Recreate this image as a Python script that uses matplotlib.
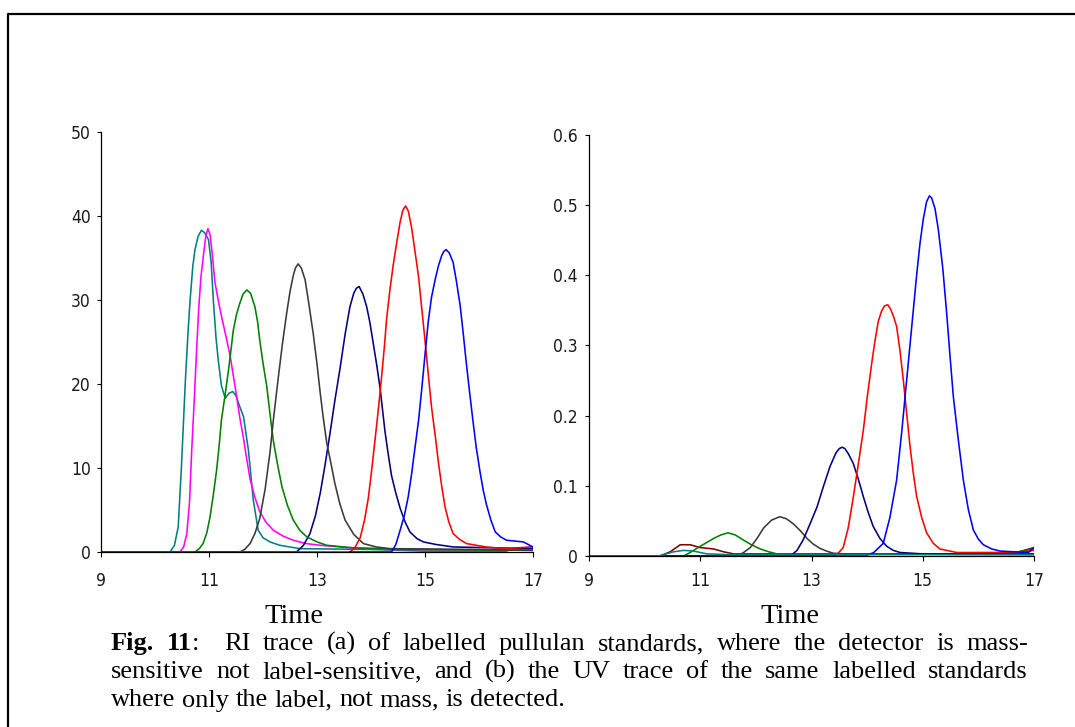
import matplotlib
matplotlib.use("Agg")
import matplotlib.pyplot as plt
from matplotlib.lines import Line2D

W, H = 1075, 727

# --- RI trace (a): elution time (min) and detector response ---
ri_teal_t = [9, 10.28, 10.36, 10.43, 10.49, 10.56, 10.61, 10.65, 10.70, 10.74, 10.80, 10.86,
             10.92, 10.99, 11.04, 11.08, 11.13, 11.17, 11.23, 11.30, 11.37, 11.44, 11.50,
             11.57, 11.64, 11.73, 11.82, 11.91, 12.0, 12.13, 12.31, 12.68, 14.0, 15.0,
             16.5, 16.7, 17]
ri_teal_v = [0, 0, 0.8, 3.0, 10.2, 20.1, 26.0, 30.0, 34.0, 36.0, 37.6, 38.3,
             38.0, 37.2, 34.5, 30.0, 25.5, 22.9, 19.8, 18.3, 18.9, 19.1, 18.6,
             17.3, 16.1, 12.1, 6.2, 2.6, 1.7, 1.2, 0.8, 0.4, 0.3, 0.1,
             0.1, 0.5, 0.4]

ri_magenta_t = [9, 10.46, 10.53, 10.59, 10.64, 10.68, 10.73, 10.77, 10.81, 10.85, 10.90,
                10.94, 10.98, 11.02, 11.06, 11.11, 11.17, 11.23, 11.31, 11.39, 11.45,
                11.51, 11.57, 11.64, 11.70, 11.76, 11.85, 11.94, 12.06, 12.19, 12.37,
                12.56, 12.8, 13.06, 13.6, 14.5, 17]
ri_magenta_v = [0, 0, 0.6, 2.2, 6.0, 12.1, 18.5, 24.0, 29.0, 32.7, 35.5,
                37.6, 38.5, 37.8, 35.5, 32.1, 30.0, 28.1, 25.8, 23.4, 21.0,
                18.6, 16.0, 13.5, 11.0, 8.7, 6.5, 4.8, 3.5, 2.6, 1.9,
                1.4, 1.0, 0.8, 0.5, 0.3, 0.2]

ri_navy_t = [9, 12.62, 12.75, 12.87, 12.97, 13.06, 13.15, 13.24, 13.33, 13.43, 13.52,
             13.61, 13.68, 13.73, 13.78, 13.85, 13.92, 13.98, 14.04, 14.11, 14.17,
             14.26, 14.32, 14.38, 14.46, 14.54, 14.63, 14.72, 14.85, 14.97, 15.2,
             15.52, 17]
ri_navy_v = [0, 0, 0.8, 2.2, 4.3, 7.0, 10.4, 14.1, 18.0, 22.0, 25.9,
             29.2, 30.8, 31.4, 31.6, 30.7, 29.2, 27.3, 24.9, 22.1, 19.4,
             14.3, 11.6, 9.1, 7.0, 5.2, 3.6, 2.4, 1.6, 1.2, 0.9,
             0.6, 0.4]

ri_green_t = [9, 10.74, 10.82, 10.89, 10.96, 11.02, 11.08, 11.14, 11.19, 11.23, 11.30,
              11.36, 11.41, 11.45, 11.51, 11.57, 11.63, 11.70, 11.77, 11.85, 11.90,
              11.94, 12.0, 12.07, 12.13, 12.19, 12.27, 12.35, 12.45, 12.56, 12.68,
              12.81, 13.0, 13.18, 13.67, 14.7, 17]
ri_green_v = [0, 0, 0.4, 1.0, 2.3, 4.2, 6.8, 9.7, 12.8, 15.7, 18.8,
              21.6, 24.2, 26.4, 28.3, 29.6, 30.7, 31.2, 30.8, 29.2, 27.4,
              25.2, 22.5, 19.7, 16.4, 13.3, 10.4, 7.8, 5.6, 3.8, 2.6,
              1.8, 1.2, 0.8, 0.5, 0.3, 0.2]

ri_black_t = [10.74, 11.57, 11.66, 11.76, 11.85, 11.94, 12.04, 12.13, 12.20, 12.28, 12.36,
              12.44, 12.50, 12.56, 12.60, 12.65, 12.71, 12.78, 12.85, 12.93, 13.00,
              13.06, 13.12, 13.18, 13.26, 13.33, 13.42, 13.52, 13.68, 13.86, 14.1,
              14.35, 16.0, 17]
ri_black_v = [0, 0, 0.3, 1.0, 2.2, 4.0, 7.5, 11.9, 16.2, 20.6, 24.8,
              28.5, 31.0, 32.9, 33.8, 34.3, 33.8, 32.4, 29.5, 26.0, 22.4,
              18.9, 15.8, 13.0, 10.5, 8.2, 5.8, 3.8, 2.1, 1.0, 0.6,
              0.4, 0.3, 0.2]

ri_red_t = [11.57, 13.61, 13.70, 13.80, 13.88, 13.95, 14.01, 14.07, 14.14, 14.20, 14.25,
            14.29, 14.35, 14.41, 14.48, 14.54, 14.59, 14.64, 14.69, 14.75, 14.81,
            14.88, 14.94, 15.00, 15.06, 15.12, 15.19, 15.25, 15.31, 15.37, 15.44,
            15.52, 15.64, 15.77, 15.95, 16.13, 16.5, 16.94, 17]
ri_red_v = [0, 0, 0.5, 1.7, 3.8, 6.4, 9.6, 13.1, 17.2, 21.1, 24.6,
            27.8, 31.2, 34.1, 37.0, 39.3, 40.7, 41.2, 40.6, 38.7, 36.0,
            32.8, 29.0, 25.2, 21.2, 17.3, 13.8, 10.6, 7.8, 5.4, 3.6,
            2.2, 1.5, 1.0, 0.8, 0.6, 0.4, 0.6, 0.6]

ri_blue_t = [13.61, 14.38, 14.46, 14.54, 14.62, 14.69, 14.75, 14.81, 14.88, 14.94, 15.00,
             15.06, 15.12, 15.19, 15.25, 15.31, 15.35, 15.39, 15.45, 15.52, 15.58,
             15.65, 15.71, 15.77, 15.83, 15.89, 15.95, 16.02, 16.08, 16.14, 16.22,
             16.30, 16.40, 16.51, 16.82, 16.94, 17]
ri_blue_v = [0, 0, 0.9, 2.6, 4.4, 6.6, 9.2, 12.2, 15.6, 19.4, 23.5,
             27.4, 30.3, 32.5, 34.1, 35.3, 35.8, 36.0, 35.6, 34.5, 32.3,
             29.4, 25.9, 22.2, 18.8, 15.5, 12.4, 9.5, 7.3, 5.6, 3.8,
             2.4, 1.8, 1.4, 1.2, 0.8, 0.6]

# --- UV trace (b) ---
uv_darkred_t = [9, 10.28, 10.46, 10.64, 10.82, 11.0, 11.24, 11.42, 11.6, 16.6, 17]
uv_darkred_v = [0, 0, 0.006, 0.016, 0.016, 0.012, 0.010, 0.006, 0.003, 0.003, 0.012]

uv_green_t = [9, 10.70, 10.82, 10.94, 11.09, 11.24, 11.37, 11.50, 11.63, 11.77, 11.92,
              12.08, 12.23, 12.38, 16.5, 17]
uv_green_v = [0, 0, 0.005, 0.011, 0.018, 0.025, 0.030, 0.033, 0.030, 0.023, 0.016,
              0.010, 0.006, 0.003, 0.003, 0.010]

uv_black_t = [9, 11.66, 11.78, 11.90, 12.02, 12.14, 12.28, 12.43, 12.55, 12.67, 12.80,
              12.92, 13.03, 13.15, 13.27, 13.39, 13.6, 17]
uv_black_v = [0, 0, 0.005, 0.012, 0.025, 0.040, 0.051, 0.056, 0.053, 0.046, 0.036,
              0.025, 0.017, 0.011, 0.007, 0.004, 0.003, 0.002]

uv_navy_t = [9, 12.62, 12.74, 12.85, 12.97, 13.10, 13.21, 13.33, 13.44, 13.50, 13.55,
             13.60, 13.66, 13.75, 13.84, 13.93, 14.02, 14.11, 14.23, 14.35, 14.47,
             14.59, 15.0, 17]
uv_navy_v = [0, 0, 0.008, 0.023, 0.045, 0.070, 0.098, 0.127, 0.147, 0.153, 0.155,
             0.153, 0.146, 0.132, 0.110, 0.085, 0.062, 0.042, 0.025, 0.014, 0.008,
             0.005, 0.003, 0.003]

uv_red_t = [9, 13.39, 13.48, 13.57, 13.66, 13.75, 13.84, 13.93, 14.00, 14.08, 14.14,
            14.20, 14.26, 14.31, 14.37, 14.42, 14.48, 14.53, 14.59, 14.65, 14.71,
            14.77, 14.83, 14.89, 14.98, 15.07, 15.19, 15.31, 15.61, 16.7, 17]
uv_red_v = [0, 0, 0.004, 0.012, 0.040, 0.083, 0.130, 0.178, 0.225, 0.273, 0.306,
            0.334, 0.349, 0.356, 0.358, 0.352, 0.340, 0.327, 0.293, 0.251, 0.204,
            0.157, 0.118, 0.085, 0.055, 0.033, 0.018, 0.010, 0.005, 0.005, 0.008]

uv_blue_t = [9, 13.96, 14.12, 14.29, 14.41, 14.53, 14.62, 14.71, 14.80, 14.89, 14.95,
             15.01, 15.07, 15.12, 15.16, 15.22, 15.28, 15.36, 15.43, 15.49, 15.55,
             15.64, 15.73, 15.82, 15.91, 16.0, 16.09, 16.24, 16.39, 16.9, 17]
uv_blue_v = [0, 0, 0.005, 0.018, 0.055, 0.108, 0.175, 0.25, 0.325, 0.40, 0.445,
             0.48, 0.505, 0.513, 0.510, 0.495, 0.465, 0.410, 0.346, 0.285, 0.227,
             0.165, 0.108, 0.066, 0.037, 0.024, 0.016, 0.010, 0.007, 0.005, 0.012]

uv_teal_t = [9, 10.25, 10.52, 10.70, 10.88, 11.12, 11.5, 17]
uv_teal_v = [0, 0, 0.006, 0.008, 0.007, 0.003, 0.002, 0.002]

x_ticks = [9, 11, 13, 15, 17]
ri_yticks = [0, 10, 20, 30, 40, 50]
uv_yticks = [0, 0.1, 0.2, 0.3, 0.4, 0.5, 0.6]
uv_ylabels = ["0", "0.1", "0.2", "0.3", "0.4", "0.5", "0.6"]

caption_lines = [
    ["Fig.", "11", ":", "RI", "trace", "(a)", "of", "labelled", "pullulan", "standards,",
     "where", "the", "detector", "is", "mass-"],
    ["sensitive", "not", "label-sensitive,", "and", "(b)", "the", "UV", "trace", "of", "the",
     "same", "labelled", "standards"],
    ["where", "only", "the", "label,", "not", "mass,", "is", "detected."],
]

C_TEAL = "#008080"
C_MAGENTA = "#ff00ff"
C_GREEN = "#008000"
C_BLACK = "#3a3a3a"
C_NAVY = "#000080"
C_RED = "#ff0000"
C_BLUE = "#0000ff"
C_DARKRED = "#800000"

tick_font = ["DejaVu Sans"]
serif = ["Liberation Serif", "DejaVu Serif"]

fig = plt.figure(figsize=(W / 100, H / 100), dpi=100)


def px_rect(left, top, right, bottom):
    return [left / W, 1 - bottom / H, (right - left) / W, (bottom - top) / H]


def style_axes(ax, ylim, yticks, ylabels, xpad, ypad):
    ax.set_xlim(9, 17)
    ax.set_ylim(*ylim)
    ax.set_xticks(x_ticks)
    ax.set_yticks(yticks)
    ax.set_yticklabels(ylabels)
    for side in ("top", "right"):
        ax.spines[side].set_visible(False)
    for side in ("left", "bottom"):
        ax.spines[side].set_linewidth(0.9)
    ax.tick_params(axis="x", direction="out", length=3.6, width=0.8, pad=xpad)
    ax.tick_params(axis="y", direction="out", length=3, width=0.8, pad=ypad)
    for lab in ax.get_xticklabels() + ax.get_yticklabels():
        lab.set_fontfamily(tick_font)
        lab.set_fontstretch("condensed")
        lab.set_fontsize(12.5)
        lab.set_color("#1a1a1a")


lw = 1.15

# (a) RI
ax1 = fig.add_axes(px_rect(101, 132, 533, 552))
ax1.plot(ri_teal_t, ri_teal_v, color=C_TEAL, lw=lw)
ax1.plot(ri_magenta_t, ri_magenta_v, color=C_MAGENTA, lw=lw)
ax1.plot(ri_navy_t, ri_navy_v, color=C_NAVY, lw=lw)
ax1.plot(ri_green_t, ri_green_v, color=C_GREEN, lw=lw)
ax1.plot(ri_black_t, ri_black_v, color=C_BLACK, lw=lw)
ax1.plot(ri_red_t, ri_red_v, color=C_RED, lw=lw)
ax1.plot(ri_blue_t, ri_blue_v, color=C_BLUE, lw=lw)
style_axes(ax1, (0, 50), ri_yticks, [str(v) for v in ri_yticks], 11, 4.3)

# (b) UV
ax2 = fig.add_axes(px_rect(589, 556 - 0.6 * 702, 1034, 556))
ax2.plot(uv_darkred_t, uv_darkred_v, color=C_DARKRED, lw=lw)
ax2.plot(uv_green_t, uv_green_v, color=C_GREEN, lw=lw)
ax2.plot(uv_black_t, uv_black_v, color=C_BLACK, lw=lw)
ax2.plot(uv_navy_t, uv_navy_v, color=C_NAVY, lw=lw)
ax2.plot(uv_red_t, uv_red_v, color=C_RED, lw=lw)
ax2.plot(uv_blue_t, uv_blue_v, color=C_BLUE, lw=lw)
ax2.plot(uv_teal_t, uv_teal_v, color=C_TEAL, lw=lw)
style_axes(ax2, (0, 0.6), uv_yticks, uv_ylabels, 8.2, 5)

# axis titles
for cx in (294, 790):
    fig.text(cx / W, 1 - 623 / H, "Time", ha="center", va="baseline",
             fontsize=20.5, family=serif)

# frame around the figure
fig.add_artist(Line2D([8 / W, 8 / W, 1.0], [0.0, 1 - 14 / H, 1 - 14 / H],
                      transform=fig.transFigure, color="black", lw=1.6))

# caption, justified between x0 and x1
renderer = fig.canvas.get_renderer()
x0, x1 = 111, 1028
baselines = [650, 678, 706.5]
cap_size = 19


def word_text(word, bold):
    return fig.text(0, 0, word, fontsize=cap_size, family=serif,
                    fontweight="bold" if bold else "normal", va="baseline", ha="left")


space = word_text("a a", False)
pair = word_text("aa", False)
space_w = space.get_window_extent(renderer).width - pair.get_window_extent(renderer).width
space.remove()
pair.remove()

for li, words in enumerate(caption_lines):
    texts = []
    for i, w in enumerate(words):
        bold = li == 0 and i < 2
        texts.append(word_text(w, bold))
    widths = [t.get_window_extent(renderer).width for t in texts]
    # "11" and ":" are glued, a double gap follows the colon
    gaps = []
    for i in range(1, len(words)):
        if li == 0 and words[i] == ":":
            gaps.append(0.0)
        elif li == 0 and words[i - 1] == ":":
            gaps.append(2.0)
        else:
            gaps.append(1.0)
    if li < len(caption_lines) - 1:
        unit = (x1 - x0 - sum(widths)) / sum(gaps)
    else:
        unit = space_w
    x = x0
    for i, t in enumerate(texts):
        if i > 0:
            x += gaps[i - 1] * unit
        t.set_position((x / W, 1 - baselines[li] / H))
        x += widths[i]

fig.savefig("out.png", dpi=100)
